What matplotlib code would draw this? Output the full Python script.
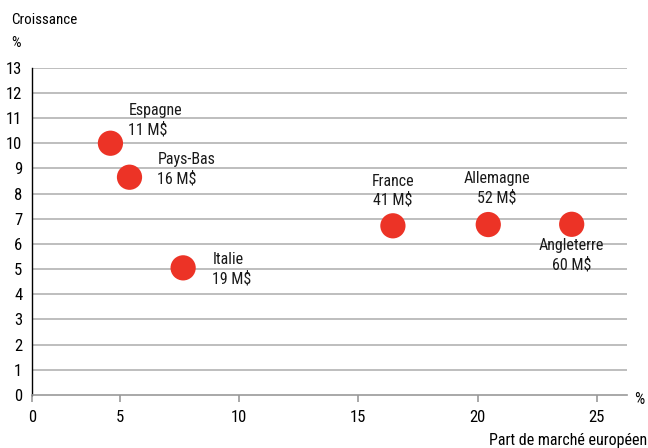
import matplotlib.pyplot as plt
from matplotlib import font_manager

# data
countries = ['Espagne', 'Pays-Bas', 'Italie', 'France', 'Allemagne', 'Angleterre']
market_share = [4.6, 5.4, 7.65, 16.45, 20.45, 23.95]
growth = [10.0, 8.65, 5.05, 6.72, 6.77, 6.78]
revenue = ['11 M$', '16 M$', '19 M$', '41 M$', '52 M$', '60 M$']

x_ticks = [1.31, 5, 10, 15, 20, 25]
x_ticklabels = ['0', '5', '10', '15', '20', '25']
y_ticks = list(range(0, 14))

# label placement: offset in points, alignment
label_pos = {
    'Espagne': ((13, 4), 'left', 'bottom'),
    'Pays-Bas': ((20, 6), 'left', 'center'),
    'Italie': ((21, -1), 'left', 'center'),
    'France': ((0, 13), 'center', 'bottom'),
    'Allemagne': ((6, 14), 'center', 'bottom'),
    'Angleterre': ((0, -10), 'center', 'top'),
}

# pick a condensed face if one happens to be there
names = {f.name for f in font_manager.fontManager.ttflist}
main_font = 'Liberation Sans'
for cand in ['Liberation Sans Narrow', 'Roboto Condensed', 'Open Sans Condensed', 'Arial Narrow']:
    if cand in names:
        main_font = cand
        break
plt.rcParams['font.family'] = [main_font, 'DejaVu Sans']
plt.rcParams['font.size'] = 11.5

fig = plt.figure(figsize=(6.48, 4.48), dpi=100)
ax = fig.add_axes([32 / 648, 1 - 395 / 448, (627 - 32) / 648, (395 - 67.7) / 448])

ax.set_xlim(1.31, 26.27)
ax.set_ylim(0, 13)

# horizontal grid
for y in y_ticks[1:]:
    ax.axhline(y, color='#b3b3b3', lw=1.2, zorder=1)

ax.scatter(market_share, growth, s=330, color='#ec3326', edgecolors='none', zorder=3)

for name, x, y, rev in zip(countries, market_share, growth, revenue):
    off, ha, va = label_pos[name]
    ax.annotate(f'{name}\n{rev}', (x, y), xytext=off, textcoords='offset points',
                ha=ha, va=va, multialignment=ha,
                linespacing=1.3, color='#1a1a1a')

for side in ['top', 'right']:
    ax.spines[side].set_visible(False)
ax.spines['left'].set_color('black')
ax.spines['left'].set_linewidth(1.0)
ax.spines['bottom'].set_color('#999999')
ax.spines['bottom'].set_linewidth(1.2)

ax.set_xticks(x_ticks)
ax.set_xticklabels(x_ticklabels)
ax.set_yticks(y_ticks)
ax.tick_params(axis='x', length=5, color='#999999', width=1.2, pad=6, labelsize=12)
ax.tick_params(axis='y', length=0, pad=7, labelsize=12)

fig.text(11 / 648, 1 - 20 / 448, 'Croissance', ha='left', va='center', fontsize=10.8)
fig.text(11 / 648, 1 - 43 / 448, '%', ha='left', va='center', fontsize=10.8)
fig.text(634 / 648, 1 - 399 / 448, '%', ha='left', va='center', fontsize=11.5)
fig.text(647.5 / 648, 1 - 440 / 448, 'Part de marché européen', ha='right', va='center', fontsize=11.5)

fig.savefig('out.png', dpi=100)
